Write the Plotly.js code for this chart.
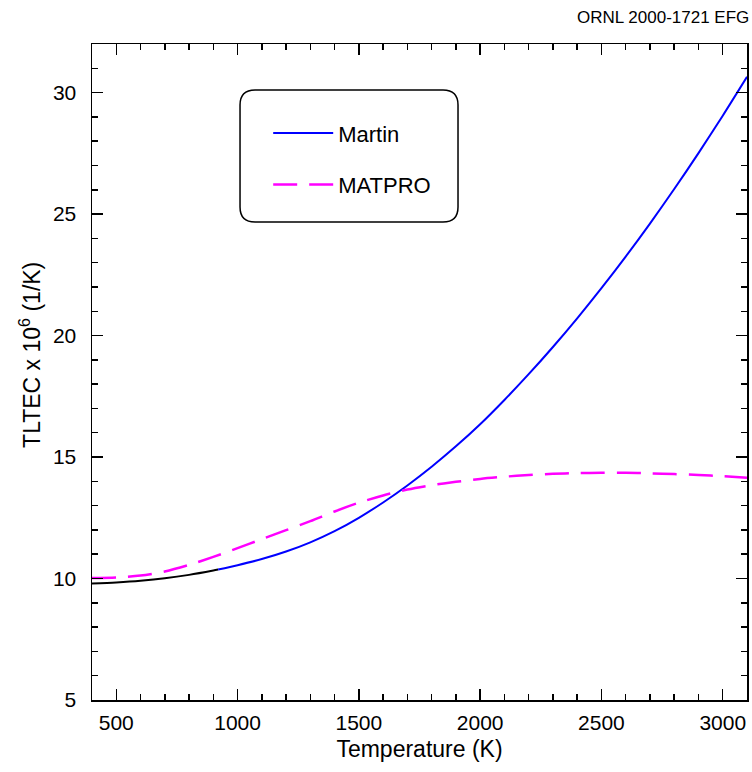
<!DOCTYPE html>
<html>
<head>
<meta charset="utf-8">
<script src="https://cdn.plot.ly/plotly-3.0.1.min.js"></script>
<style>html,body{margin:0;padding:0;background:#fff;}#chart{width:752px;height:772px;}</style>
</head>
<body>
<div id="chart"></div>
<script>
// Martin correlation, low-temperature branch (drawn black)
const martinLowT = [400, 500, 600, 700, 800, 900, 920];
const martinLowY = [9.79, 9.84, 9.91, 10.01, 10.15, 10.33, 10.37];
// Martin correlation, high-temperature branch (drawn blue)
const martinHighT = [920, 1000, 1100, 1200, 1300, 1400, 1500, 1600, 1700, 1800, 1900, 2000, 2100, 2200, 2300, 2400, 2500, 2600, 2700, 2800, 2900, 3000, 3100];
const martinHighY = [10.37, 10.55, 10.80, 11.11, 11.49, 11.95, 12.50, 13.13, 13.83, 14.60, 15.44, 16.35, 17.35, 18.41, 19.53, 20.71, 21.95, 23.25, 24.61, 26.03, 27.51, 29.05, 30.65];
// MATPRO correlation
const matproT = [400, 500, 600, 700, 800, 900, 1000, 1100, 1200, 1300, 1400, 1500, 1600, 1700, 1800, 1900, 2000, 2100, 2200, 2300, 2400, 2500, 2600, 2700, 2800, 2900, 3000, 3100];
const matproY = [10.02, 10.04, 10.12, 10.29, 10.56, 10.89, 11.25, 11.62, 11.99, 12.36, 12.76, 13.12, 13.42, 13.66, 13.84, 13.98, 14.10, 14.19, 14.26, 14.31, 14.34, 14.35, 14.35, 14.33, 14.30, 14.26, 14.21, 14.15];

const FONT = 'Liberation Sans, Arial, Helvetica, sans-serif';

const traces = [
  {x: martinLowT, y: martinLowY, mode: 'lines', line: {color: '#000000', width: 2, shape: 'spline', smoothing: 0.8}, showlegend: false, hoverinfo: 'skip'},
  {x: martinHighT, y: martinHighY, mode: 'lines', name: 'Martin', legendgroup: 'a', line: {color: '#0000ff', width: 2, shape: 'spline', smoothing: 0.8}},
  {x: matproT, y: matproY, mode: 'lines', name: 'MATPRO', legendgroup: 'b', line: {color: '#ff00ff', width: 2.5, dash: '24px,12px', shape: 'spline', smoothing: 0.8}}
];

function roundRect(x0, y0, x1, y1, rx, ry) {
  return 'M' + (x0 + rx) + ',' + y1 + ' L' + (x1 - rx) + ',' + y1 +
    ' Q' + x1 + ',' + y1 + ' ' + x1 + ',' + (y1 - ry) +
    ' L' + x1 + ',' + (y0 + ry) +
    ' Q' + x1 + ',' + y0 + ' ' + (x1 - rx) + ',' + y0 +
    ' L' + (x0 + rx) + ',' + y0 +
    ' Q' + x0 + ',' + y0 + ' ' + x0 + ',' + (y0 + ry) +
    ' L' + x0 + ',' + (y1 - ry) +
    ' Q' + x0 + ',' + y1 + ' ' + (x0 + rx) + ',' + y1 + ' Z';
}

const axisCommon = {
  showline: true, mirror: 'ticks', linecolor: '#000', linewidth: 1.5,
  ticks: 'inside', ticklen: 11, tickwidth: 1.5, tickcolor: '#000',
  showgrid: false, zeroline: false,
  tickfont: {family: FONT, size: 21, color: '#000'}
};

const layout = {
  width: 752, height: 772,
  margin: {l: 92, r: 5, t: 44, b: 72},
  paper_bgcolor: '#fff', plot_bgcolor: '#fff',
  font: {family: FONT, color: '#000'},
  xaxis: Object.assign({}, axisCommon, {
    range: [400, 3100], tick0: 0, dtick: 500,
    minor: {dtick: 100, ticks: 'inside', ticklen: 6, tickwidth: 1.5, tickcolor: '#000'},
    ticklabelstandoff: 3,
    title: {text: 'Temperature (K)', font: {family: FONT, size: 23, color: '#000'}, standoff: 8}
  }),
  yaxis: Object.assign({}, axisCommon, {
    range: [5, 32], tick0: 0, dtick: 5,
    minor: {dtick: 1, ticks: 'inside', ticklen: 6, tickwidth: 1.5, tickcolor: '#000'},
    ticklabelstandoff: 10
  }),
  showlegend: true,
  legend: {
    x: 0.269, y: 0.896, xanchor: 'left', yanchor: 'top',
    bgcolor: 'rgba(0,0,0,0)', borderwidth: 0,
    font: {family: FONT, size: 22, color: '#000'},
    traceorder: 'grouped', tracegroupgap: 20, itemwidth: 60
  },
  shapes: [{
    type: 'path', xref: 'paper', yref: 'paper', layer: 'below',
    path: roundRect(0.226, 0.7287, 0.5588, 0.930, 0.0229, 0.0229),
    line: {color: '#000', width: 1.5}, fillcolor: '#fff'
  }],
  annotations: [{
    text: 'ORNL 2000-1721 EFG', xref: 'paper', yref: 'paper',
    x: 1.006, y: 1.041, xanchor: 'right', yanchor: 'middle', showarrow: false,
    font: {family: FONT, size: 17, color: '#000'}
  }, {
    text: 'TLTEC x 10<sup>6</sup> (1/K)', xref: 'paper', yref: 'paper',
    x: -0.0947, y: 0.526, xanchor: 'center', yanchor: 'middle', textangle: -90, showarrow: false,
    font: {family: FONT, size: 23, color: '#000'}
  }]
};

Plotly.newPlot('chart', traces, layout, {displayModeBar: false, staticPlot: true});
</script>
</body>
</html>
